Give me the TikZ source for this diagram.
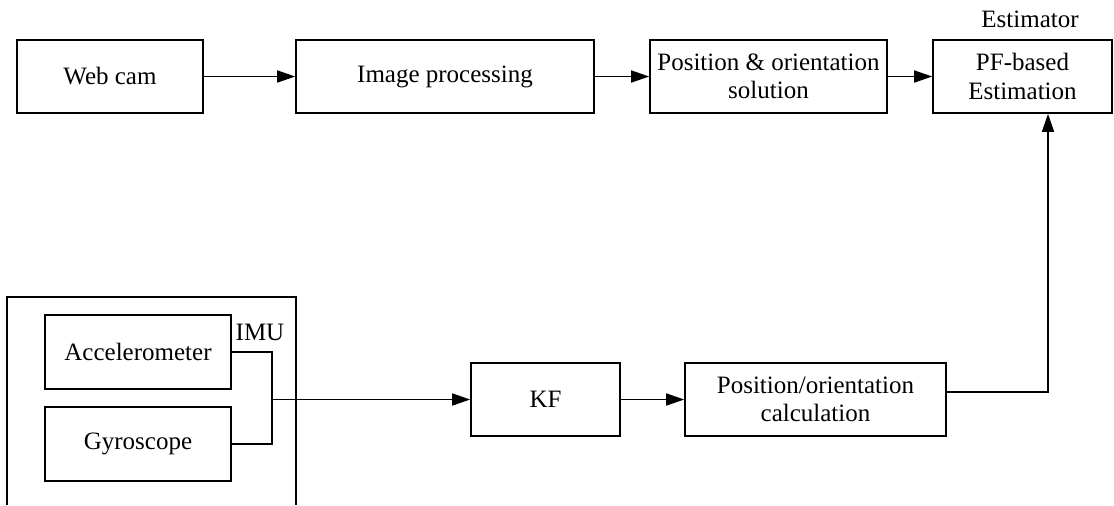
\documentclass[tikz,border=0pt]{standalone}
\usepackage{fontspec}
\setmainfont{Liberation Serif}
\usetikzlibrary{arrows.meta}

\begin{document}
\begin{tikzpicture}[-,>={Triangle[length=9pt,width=6pt]},x=0.5pt,y=-0.5pt,
line width=0.8pt,font=\fontsize{12.5}{14.2}\selectfont,
block/.style={rectangle,draw,align=center,inner sep=0pt,minimum height=36.5pt}]
\useasboundingbox (0,0) rectangle (1114,505);
% camera branch
\node[block,minimum width=93pt] (cam) at (110,76.5) {Web cam};
\node[block,minimum width=149pt] (img) at (445,76.5) {Image processing};
\node[block,minimum width=118.5pt] (sol) at (768.5,76.5) {Position \& orientation\\solution};
\node[block,minimum width=89.5pt] (pf) at (1022.5,76.5) {PF-based\\Estimation};
\node (est) at (1030,19) {Estimator};
% inertial branch
\draw (7,505) -- (7,297) -- (296,297) -- (296,505);
\node[block,minimum width=93pt,minimum height=37pt] (acc) at (138,352) {Accelerometer};
\node[block,minimum width=93pt,minimum height=37pt] (gyro) at (138,444) {Gyroscope};
\node (imu) at (260,332) {IMU};
\coordinate (joint) at (272,399.5);
\node[block,minimum width=74.5pt] (kf) at (545.5,399.5) {KF};
\node[block,minimum width=130.5pt] (calc) at (815.5,399.5) {Position/orientation\\calculation};
\path[->]
(cam) edge (img)
(img) edge (sol)
(sol) edge (pf)
(joint) edge (kf)
(kf) edge (calc);
\draw (acc.east) -| (joint) |- (gyro.east);
\draw[->] ([yshift=3.75pt]calc.east) -| ([xshift=12.75pt]pf.south);
\end{tikzpicture}
\end{document}
